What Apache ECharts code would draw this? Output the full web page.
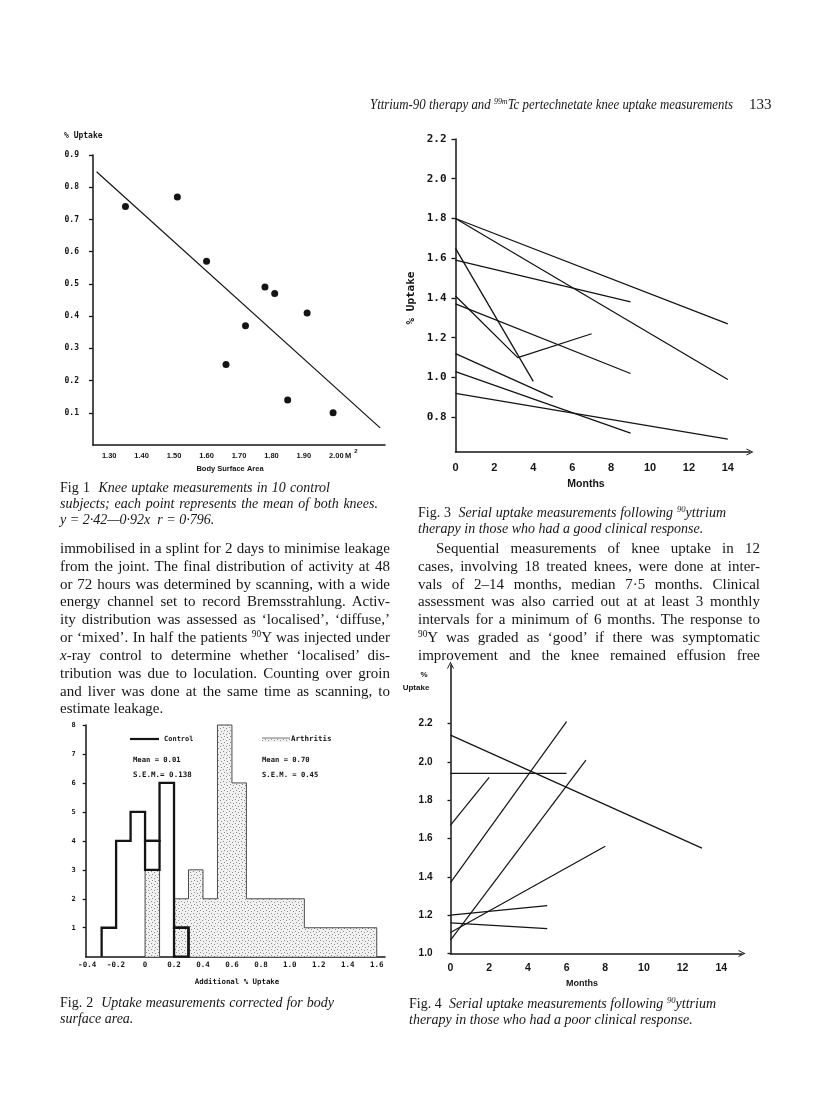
<!DOCTYPE html>
<html><head><meta charset="utf-8">
<script src="https://cdn.jsdelivr.net/npm/echarts@6/dist/echarts.min.js"></script>
<style>
html,body{margin:0;padding:0;background:#fff;}
#page{position:relative;width:816px;height:1099px;overflow:hidden;background:#fff;}
#chart{position:absolute;left:0;top:0;width:816px;height:1099px;}
.ln{position:absolute;font-family:'Liberation Serif','Times New Roman',serif;font-size:15px;line-height:18px;color:#161616;white-space:nowrap;transform-origin:0 50%;}
.cap{font-size:14px;}
.it{font-style:italic;}
sup{font-size:0.62em;line-height:0;vertical-align:0.55em;}
</style></head>
<body><div id="page">
<div id="chart"></div>

<div class="ln it" data-w="363" style="left:370px;top:95px;font-size:14.5px">Yttrium-90 therapy and <sup>99m</sup>Tc pertechnetate knee uptake measurements</div>
<div class="ln" style="left:749px;top:95px;font-size:15px">133</div>

<div class="ln cap" data-w="270" style="left:60px;top:479px">Fig 1&nbsp; <i>Knee uptake measurements in 10 control</i></div>
<div class="ln cap it" data-w="318" style="left:60px;top:495px">subjects; each point represents the mean of both knees.</div>
<div class="ln cap it" style="left:60px;top:511px">y = 2·42—0·92x&nbsp; r = 0·796.</div>

<div class="ln cap" data-w="308" style="left:418px;top:504px">Fig. 3&nbsp; <i>Serial uptake measurements following <sup>90</sup>yttrium</i></div>
<div class="ln cap it" style="left:418px;top:520px">therapy in those who had a good clinical response.</div>

<div class="ln" data-w="330" style="left:60px;top:539px">immobilised in a splint for 2 days to minimise leakage</div>
<div class="ln" data-w="330" style="left:60px;top:557px">from the joint. The final distribution of activity at 48</div>
<div class="ln" data-w="330" style="left:60px;top:574.5px">or 72 hours was determined by scanning, with a wide</div>
<div class="ln" data-w="330" style="left:60px;top:592px">energy channel set to record Bremsstrahlung. Activ-</div>
<div class="ln" data-w="330" style="left:60px;top:610px">ity distribution was assessed as ‘localised’, ‘diffuse,’</div>
<div class="ln" data-w="330" style="left:60px;top:628px">or ‘mixed’. In half the patients <sup>90</sup>Y was injected under</div>
<div class="ln" data-w="330" style="left:60px;top:646px"><i>x</i>-ray control to determine whether ‘localised’ dis-</div>
<div class="ln" data-w="330" style="left:60px;top:664px">tribution was due to loculation. Counting over groin</div>
<div class="ln" data-w="330" style="left:60px;top:681.5px">and liver was done at the same time as scanning, to</div>
<div class="ln" style="left:60px;top:699px">estimate leakage.</div>

<div class="ln" data-w="324" style="left:436px;top:539px">Sequential measurements of knee uptake in 12</div>
<div class="ln" data-w="342" style="left:418px;top:557px">cases, involving 18 treated knees, were done at inter-</div>
<div class="ln" data-w="342" style="left:418px;top:574.5px">vals of 2–14 months, median 7·5 months. Clinical</div>
<div class="ln" data-w="342" style="left:418px;top:592px">assessment was also carried out at at least 3 monthly</div>
<div class="ln" data-w="342" style="left:418px;top:610px">intervals for a minimum of 6 months. The response to</div>
<div class="ln" data-w="342" style="left:418px;top:628px"><sup>90</sup>Y was graded as ‘good’ if there was symptomatic</div>
<div class="ln" data-w="342" style="left:418px;top:646px">improvement and the knee remained effusion free</div>

<div class="ln cap" data-w="274" style="left:60px;top:994px">Fig. 2&nbsp; <i>Uptake measurements corrected for body</i></div>
<div class="ln cap it" style="left:60px;top:1010px">surface area.</div>

<div class="ln cap" data-w="307" style="left:409px;top:995px">Fig. 4&nbsp; <i>Serial uptake measurements following <sup>90</sup>yttrium</i></div>
<div class="ln cap it" style="left:409px;top:1011px">therapy in those who had a poor clinical response.</div>
</div>

<script>
// ---------- Fig 1 data ----------
const fig1Bsa    = [1.35, 1.51, 1.60, 1.78, 1.81, 1.91, 1.72, 1.66, 1.85, 1.99];
const fig1Uptake = [0.74, 0.77, 0.57, 0.49, 0.47, 0.41, 0.37, 0.25, 0.14, 0.10];
const fig1FitX   = [1.261, 2.135];
const fig1FitY   = [0.848, 0.053];
const fig1XTicks = [1.3, 1.4, 1.5, 1.6, 1.7, 1.8, 1.9, 2.0];
const fig1YTicks = [0.1, 0.2, 0.3, 0.4, 0.5, 0.6, 0.7, 0.8, 0.9];

// ---------- Fig 2 data (histogram bins: [from, to, count]) ----------
const fig2Control   = [[-0.3,-0.2,1],[-0.2,-0.1,4],[-0.1,0,5],[0,0.1,4],[0.1,0.2,6],[0.2,0.3,1]];
const fig2Arthritis = [[0,0.1,3],[0.2,0.3,2],[0.3,0.4,3],[0.4,0.5,2],[0.5,0.6,8],[0.6,0.7,6],[0.7,1.1,2],[1.1,1.6,1]];
const fig2XTicks = [-0.4, -0.2, 0, 0.2, 0.4, 0.6, 0.8, 1.0, 1.2, 1.4, 1.6];
const fig2YTicks = [1, 2, 3, 4, 5, 6, 7, 8];

// ---------- Fig 3 data (good response): [month, % uptake] ----------
const fig3Lines = [
  [[0,1.80],[14,1.27]],
  [[0,1.80],[14,0.99]],
  [[0,1.59],[9,1.38]],
  [[0,1.65],[4,0.98]],
  [[0,1.41],[3.2,1.10],[7,1.22]],
  [[0,1.37],[9,1.02]],
  [[0,1.12],[5,0.90]],
  [[0,1.03],[9,0.72]],
  [[0,0.92],[14,0.69]]
];
const fig3YTicks = [0.8, 1.0, 1.2, 1.4, 1.6, 1.8, 2.0, 2.2];

// ---------- Fig 4 data (poor response): [month, % uptake] ----------
const fig4Lines = [
  [[0,2.14],[13,1.55]],
  [[0,1.94],[6,1.94]],
  [[0,1.67],[2,1.92]],
  [[0,1.37],[6,2.21]],
  [[0,1.07],[7,2.01]],
  [[0,1.20],[5,1.25]],
  [[0,1.16],[5,1.13]],
  [[0,1.11],[8,1.56]]
];
const fig4YTicks = [1.0, 1.2, 1.4, 1.6, 1.8, 2.0, 2.2];
const monthTicks = [0, 2, 4, 6, 8, 10, 12, 14];

// ---------- justify text lines to their printed widths ----------
document.querySelectorAll('.ln[data-w]').forEach(el => {
  const target = parseFloat(el.dataset.w);
  const n = (el.textContent.match(/[ \u00a0]/g) || []).length;
  const w = el.getBoundingClientRect().width;
  const sp = n > 0 ? (target - w) / n : 0;
  if (sp >= -0.6) {
    el.style.wordSpacing = sp.toFixed(2) + 'px';
  } else {
    el.style.transform = 'scaleX(' + (target / w).toFixed(4) + ')';
  }
});

// ---------- rendering ----------
const INK = '#141414';
const MONO = "'DejaVu Sans Mono', monospace";
const SANS = "'Liberation Sans', Arial, sans-serif";

function makeStipple(){
  const c = document.createElement('canvas'); c.width = 6; c.height = 6;
  const g = c.getContext('2d');
  g.fillStyle = '#f1f1f1'; g.fillRect(0,0,6,6);
  g.fillStyle = '#8c8c8c';
  [[1,1],[4,2],[2,4],[5,5]].forEach(p => g.fillRect(p[0], p[1], 1, 1));
  return c;
}
const stipple = {image: makeStipple(), repeat: 'repeat'};
const chevron = 'path://M0,12 L6,0 L12,12 L10.3,12 L6,3.2 L1.7,12 Z';

function axis(o){
  return {
    type: 'value', gridIndex: o.grid, min: o.min, max: o.max,
    splitLine: {show: false},
    axisLine: {show: true, onZero: false, lineStyle: {color: INK, width: o.lw || 1.5},
               symbol: o.arrow ? ['none', chevron] : 'none', symbolSize: [7, 9]},
    axisTick: o.ticks ? {show: true, inside: false, length: o.tickLen || 4,
               customValues: o.ticks, lineStyle: {color: INK, width: 1.3}} : {show: false},
    axisLabel: {show: true, customValues: o.labels, margin: o.margin,
               formatter: o.fmt, color: INK, fontFamily: o.font, fontSize: o.size, fontWeight: 'bold'}
  };
}

function stepOutline(bins){
  const segs = []; let cur = null;
  bins.forEach((b, i) => {
    const prev = bins[i-1];
    if (!prev || Math.abs(prev[1] - b[0]) > 1e-9) {
      if (cur) { cur.push([prev[1], 0]); segs.push(cur); }
      cur = [[b[0], 0]];
    }
    cur.push([b[0], b[2]], [b[1], b[2]]);
  });
  cur.push([bins[bins.length-1][1], 0]); segs.push(cur);
  return segs;
}

const series = [];
series.push({
  type: 'scatter', xAxisIndex: 0, yAxisIndex: 0, symbolSize: 7,
  itemStyle: {color: INK, opacity: 1}, data: fig1Bsa.map((x, i) => [x, fig1Uptake[i]])
});
series.push({
  type: 'line', xAxisIndex: 0, yAxisIndex: 0, symbol: 'none',
  lineStyle: {color: INK, width: 1.2}, data: fig1FitX.map((x, i) => [x, fig1FitY[i]])
});
fig3Lines.forEach(d => series.push({
  type: 'line', xAxisIndex: 1, yAxisIndex: 1, symbol: 'none',
  lineStyle: {color: INK, width: 1.3}, data: d
}));
fig4Lines.forEach(d => series.push({
  type: 'line', xAxisIndex: 2, yAxisIndex: 2, symbol: 'none',
  lineStyle: {color: INK, width: 1.2}, data: d
}));
series.push({
  type: 'custom', xAxisIndex: 3, yAxisIndex: 3, clip: false,
  data: [[0, 0]], encode: {x: 0, y: 1},
  renderItem: function(params, api){
    const P = (x, y) => api.coord([x, y]);
    const ch = [];
    fig2Arthritis.forEach(b => {
      const a = P(b[0], b[2]), z = P(b[1], 0);
      ch.push({type: 'rect', shape: {x: a[0], y: a[1], width: z[0]-a[0], height: z[1]-a[1]},
               style: {fill: stipple}});
    });
    stepOutline(fig2Arthritis).forEach(s => ch.push({type: 'polyline',
      shape: {points: s.map(q => P(q[0], q[1]))}, style: {stroke: '#3a3a3a', lineWidth: 0.9, fill: null}}));
    stepOutline(fig2Control).forEach(s => ch.push({type: 'polyline',
      shape: {points: s.map(q => P(q[0], q[1]))}, style: {stroke: INK, lineWidth: 2.3, fill: null, lineJoin: 'miter'}}));
    fig2Control.forEach(c => {
      const a = fig2Arthritis.find(b => Math.abs(b[0]-c[0]) < 1e-9);
      if (!a || a[2] <= 0) return;
      const lo = c[2] > a[2] ? a[2] : 0, hi = c[2];
      const p = P(c[0], hi), q = P(c[1], lo);
      ch.push({type: 'rect', shape: {x: p[0], y: p[1], width: q[0]-p[0], height: q[1]-p[1]},
               style: {stroke: INK, lineWidth: 2.3, fill: null}});
    });
    return {type: 'group', children: ch};
  }
});

function txt(x, y, text, font, opt){
  opt = opt || {};
  return {type: 'text', x: x, y: y, rotation: opt.rot || 0, silent: true,
    style: {text: text, font: font, fill: INK, textAlign: opt.align || 'center', textVerticalAlign: 'middle'}};
}

const graphics = [
  // Fig 1
  txt(64, 136, '% Uptake', "bold 8px " + MONO, {align: 'left'}),
  txt(230, 469, 'Body Surface Area', "bold 7.5px " + SANS),
  txt(348, 456, 'M', "bold 7.5px " + SANS),
  txt(356, 451, '2', "bold 6px " + SANS),
  // Fig 3
  txt(411, 298, '% Uptake', "bold 11px " + MONO, {rot: Math.PI/2}),
  txt(586, 484, 'Months', "bold 10.5px " + SANS),
  // Fig 4
  txt(424, 675, '%', "bold 8px " + SANS),
  txt(416, 688, 'Uptake', "bold 8px " + SANS),
  txt(582, 984, 'Months', "bold 9px " + SANS),
  // Fig 2
  txt(237, 982, 'Additional % Uptake', "bold 7.4px " + MONO),
  {type: 'line', shape: {x1: 130, y1: 739, x2: 159, y2: 739}, style: {stroke: INK, lineWidth: 2.2}},
  txt(164, 739, 'Control', "bold 7px " + MONO, {align: 'left'}),
  txt(133, 760, 'Mean = 0.01', "bold 7.2px " + MONO, {align: 'left'}),
  txt(133, 775, 'S.E.M.= 0.138', "bold 7.5px " + MONO, {align: 'left'}),
  {type: 'rect', shape: {x: 262, y: 738, width: 28, height: 4}, style: {fill: stipple}},
  {type: 'line', shape: {x1: 262, y1: 738, x2: 290, y2: 738}, style: {stroke: '#555', lineWidth: 0.8}},
  txt(291, 739, 'Arthritis', "bold 7.5px " + MONO, {align: 'left'}),
  txt(262, 760, 'Mean = 0.70', "bold 7.2px " + MONO, {align: 'left'}),
  txt(262, 775, 'S.E.M. = 0.45', "bold 7.2px " + MONO, {align: 'left'})
];

const option = {
  animation: false,
  backgroundColor: 'transparent',
  grid: [
    {left: 93, top: 155, width: 292, height: 290, outerBoundsMode: 'none'},
    {left: 455.5, top: 139, width: 294.5, height: 313, outerBoundsMode: 'none'},
    {left: 450.5, top: 665, width: 291.5, height: 288.5, outerBoundsMode: 'none'},
    {left: 85.7, top: 725, width: 299.3, height: 231.7, outerBoundsMode: 'none'}
  ],
  xAxis: [
    axis({grid: 0, min: 1.25, max: 2.15, labels: fig1XTicks, margin: 7, font: SANS, size: 7.5,
          fmt: v => v.toFixed(2)}),
    axis({grid: 1, min: 0, max: 15.14, labels: monthTicks, margin: 10, font: SANS, size: 11,
          arrow: true, fmt: v => String(v)}),
    axis({grid: 2, min: 0, max: 15.07, labels: monthTicks, margin: 9, font: SANS, size: 10.5,
          arrow: true, fmt: v => String(v)}),
    axis({grid: 3, min: -0.41, max: 1.657, labels: fig2XTicks, margin: 4, font: MONO, size: 7.5,
          fmt: v => (v === 0 ? '0' : v.toFixed(1))})
  ],
  yAxis: [
    axis({grid: 0, min: 0, max: 0.9, labels: fig1YTicks, ticks: fig1YTicks, margin: 14, font: MONO, size: 8,
          fmt: v => v.toFixed(1)}),
    axis({grid: 1, min: 0.625, max: 2.2, labels: fig3YTicks, ticks: fig3YTicks, margin: 9, font: MONO, size: 11,
          fmt: v => v.toFixed(1)}),
    axis({grid: 2, min: 1.0, max: 2.506, labels: fig4YTicks, ticks: fig4YTicks, margin: 18, font: SANS, size: 10,
          arrow: true, tickLen: 3, fmt: v => v.toFixed(1)}),
    axis({grid: 3, min: 0, max: 8, labels: fig2YTicks, ticks: fig2YTicks, margin: 10, font: MONO, size: 7,
          tickLen: 3, fmt: v => String(v)})
  ],
  series: series,
  graphic: {elements: graphics}
};

const chart = echarts.init(document.getElementById('chart'), null, {renderer: 'canvas', width: 816, height: 1099});
chart.setOption(option);
</script>
</body></html>
